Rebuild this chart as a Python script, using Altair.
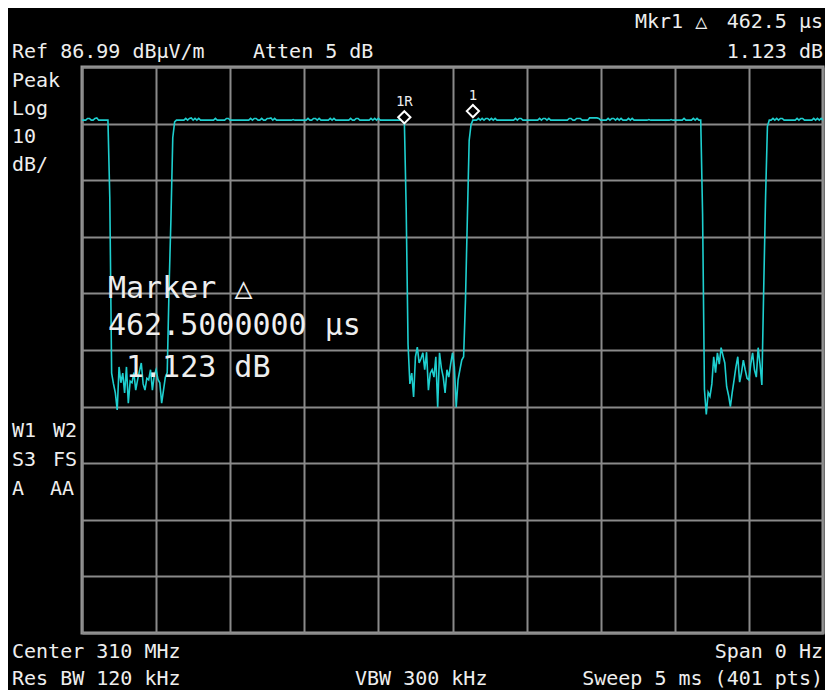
import altair as alt
import pandas as pd

# ---------------- data (read from the analyzer screen) ----------------
# 401 trace points, 5 ms sweep, level in dBuV/m
level_dbuv = [
    77.6, 77.6, 77.6, 77.9, 77.9, 77.6, 77.6, 77.9, 78.0, 77.6,
    77.6, 77.6, 77.6, 77.6, 77.6, 64.0, 32.9, 31.0, 29.4, 26.4,
    34.0, 31.2, 32.9, 29.4, 34.0, 27.6, 31.5, 31.2, 33.0, 29.9,
    31.7, 33.2, 34.7, 31.0, 29.9, 32.0, 31.7, 33.5, 29.9, 32.5,
    33.5, 31.8, 31.2, 27.6, 29.9, 32.2, 33.0, 48.0, 60.0, 74.5,
    77.3, 77.6, 77.6, 77.6, 77.6, 77.6, 77.9, 77.6, 77.9, 78.0,
    77.6, 77.9, 77.6, 77.9, 77.6, 77.6, 77.6, 77.6, 77.6, 77.6,
    77.6, 77.6, 77.9, 77.6, 77.6, 77.6, 77.6, 77.6, 77.9, 77.9,
    77.6, 77.6, 77.6, 77.6, 77.6, 77.6, 77.6, 77.6, 77.6, 77.6,
    77.6, 77.9, 77.6, 77.9, 77.9, 77.6, 77.6, 77.9, 77.6, 77.6,
    77.9, 77.9, 78.0, 77.6, 77.9, 77.6, 77.6, 77.6, 77.6, 77.6,
    77.6, 77.6, 77.6, 77.6, 77.7, 77.6, 77.6, 77.6, 77.6, 77.6,
    77.6, 77.6, 77.9, 77.6, 77.6, 77.9, 77.9, 77.6, 77.9, 77.6,
    77.6, 77.6, 77.6, 77.6, 77.9, 77.6, 77.9, 77.6, 77.6, 77.6,
    77.6, 77.6, 77.6, 77.6, 77.6, 77.9, 77.6, 77.6, 77.9, 77.9,
    77.6, 77.6, 77.6, 77.6, 77.6, 77.6, 77.9, 77.6, 77.9, 77.6,
    77.9, 77.6, 77.6, 77.6, 77.6, 77.6, 77.6, 77.6, 77.6, 77.6,
    77.6, 77.6, 77.6, 77.6, 77.6, 62.0, 38.0, 31.0, 32.9, 28.7,
    35.8, 37.5, 34.7, 35.5, 36.5, 33.5, 36.6, 29.9, 32.9, 33.5,
    32.2, 35.8, 26.9, 36.5, 33.8, 32.2, 29.4, 33.5, 32.2, 34.5,
    36.5, 34.0, 26.9, 31.7, 33.5, 35.2, 35.8, 45.8, 60.0, 74.0,
    76.8, 77.6, 77.6, 77.6, 77.9, 77.6, 77.9, 77.6, 77.9, 77.9,
    77.6, 77.9, 77.6, 77.9, 77.6, 77.6, 77.6, 77.6, 77.6, 77.6,
    77.6, 77.6, 77.6, 77.6, 77.9, 77.6, 77.9, 77.9, 77.6, 77.6,
    77.6, 77.6, 77.6, 77.6, 77.6, 77.6, 77.6, 77.9, 77.6, 77.9,
    77.9, 77.6, 77.9, 77.6, 77.6, 77.6, 77.6, 77.6, 77.6, 77.6,
    77.6, 77.6, 77.6, 77.9, 77.9, 77.6, 77.6, 77.9, 77.9, 77.9,
    77.6, 77.6, 77.6, 77.6, 78.0, 78.0, 78.0, 78.0, 78.0, 77.9,
    77.6, 77.6, 77.6, 77.6, 77.9, 77.6, 77.9, 77.9, 77.6, 77.9,
    77.6, 77.9, 77.6, 77.6, 77.6, 77.9, 77.6, 77.9, 77.6, 77.6,
    77.6, 77.6, 77.6, 77.6, 77.6, 77.6, 77.7, 77.6, 77.6, 77.6,
    77.6, 77.6, 77.6, 77.6, 77.6, 77.6, 77.6, 77.6, 77.7, 77.6,
    77.6, 77.6, 77.6, 77.6, 77.6, 77.9, 77.6, 77.6, 77.6, 77.6,
    77.9, 77.6, 77.9, 77.6, 77.6, 61.0, 30.0, 25.6, 29.5, 28.8,
    31.0, 35.8, 33.0, 36.5, 34.5, 37.4, 36.0, 34.7, 30.5, 29.0,
    27.0, 29.5, 31.7, 34.0, 35.8, 31.3, 33.0, 35.2, 33.5, 32.0,
    31.7, 34.5, 36.5, 33.5, 32.2, 37.4, 34.5, 30.8, 48.0, 64.0,
    76.5, 77.6, 77.6, 77.9, 77.6, 77.9, 77.6, 77.9, 77.9, 77.6,
    77.6, 77.6, 77.6, 77.6, 77.6, 77.6, 77.9, 77.6, 77.9, 77.9,
    77.6, 77.6, 77.6, 77.6, 77.6, 77.9, 77.6, 77.9, 77.6, 77.9,
    77.6,
]
point_index = list(range(len(level_dbuv)))   # 0 .. 400 (401 pts)

marker_index = [174, 211]
marker_level = [78.1, 79.2]
marker_name = ["1R", "1"]

x_grid = [0, 40, 80, 120, 160, 200, 240, 280, 320, 360, 400]
y_grid = [-13.01, -3.01, 6.99, 16.99, 26.99, 36.99, 46.99, 56.99, 66.99, 76.99, 86.99]

hdr_marker = ["Mkr1 \u25b3", "462.5 \u03bcs", "1.123 dB"]
hdr_left = ["Ref 86.99 dB\u03bcV/m", "Atten 5 dB"]
side_top = ["Peak", "Log", "10", "dB/"]
side_bot = [("W1", "W2"), ("S3", "FS"), ("A", "AA")]
footer = ["Center 310 MHz", "Span 0 Hz", "Res BW 120 kHz", "VBW 300 kHz",
          "Sweep 5 ms (401 pts)"]
readout = ["Marker \u25b3", "462.5000000 \u03bcs", "1.123 dB"]

# ---------------- style ----------------
FONT = "DejaVu Sans Mono"
TEXT = "#eeeeee"
CYAN = "#1ecfcf"
GRID = "#8a8a8a"
BORDER = "#9c9c9c"
W, H = 741, 566

trace = pd.DataFrame({"idx": point_index, "level": level_dbuv})
markers = pd.DataFrame({"idx": marker_index, "level": marker_level, "name": marker_name})

x_enc = alt.X("idx:Q",
              scale=alt.Scale(domain=[0, 400], nice=False, zero=False),
              axis=alt.Axis(values=x_grid, grid=True, gridColor=GRID, gridWidth=2,
                            gridOpacity=1, labels=False, ticks=False, domain=False,
                            title=None))
y_enc = alt.Y("level:Q",
              scale=alt.Scale(domain=[y_grid[0], y_grid[-1]], nice=False, zero=False),
              axis=alt.Axis(values=y_grid, grid=True, gridColor=GRID, gridWidth=2,
                            gridOpacity=1, labels=False, ticks=False, domain=False,
                            title=None))

line = alt.Chart(trace).mark_line(color=CYAN, strokeWidth=1.6, clip=True).encode(
    x=x_enc, y=y_enc)

pts = alt.Chart(markers).mark_point(shape="diamond", size=150, filled=True,
                                    fill="black", stroke="white", strokeWidth=2,
                                    opacity=1).encode(x="idx:Q", y="level:Q")
lbl = alt.Chart(markers).mark_text(font=FONT, fontSize=14, color=TEXT, dy=-11,
                                   align="center", baseline="alphabetic").encode(
    x="idx:Q", y="level:Q", text="name:N")


def label(txt, x, y, size=20, align="left"):
    return alt.Chart(pd.DataFrame({"t": [txt]})).mark_text(
        font=FONT, fontSize=size, color=TEXT, align=align, baseline="alphabetic"
    ).encode(x=alt.value(x), y=alt.value(y), text="t:N")


texts = [
    label(hdr_marker[0], 553, -39),
    label(hdr_marker[1], W, -39, align="right"),
    label(hdr_marker[2], W, -9, align="right"),
    label(hdr_left[0], -70, -9),
    label(hdr_left[1], 171, -9),
]
for i, t in enumerate(side_top):
    texts.append(label(t, -70, 20 + 28 * i))
for i, (a, b) in enumerate(side_bot):
    texts.append(label(a, -70, 370 + 29 * i))
    texts.append(label(b, -32 if b == "AA" else -29, 370 + 29 * i))
texts += [
    label(footer[0], -70, 591),
    label(footer[1], W, 591, align="right"),
    label(footer[2], -70, 618),
    label(footer[3], 273, 618),
    label(footer[4], W, 618, align="right"),
]
texts.append(label(readout[0], 26, 231, size=30))
texts.append(label(readout[1], 26, 268, size=30))
texts.append(label(readout[2], 44, 310, size=30))

chart = alt.layer(line, pts, lbl, *texts).properties(
    width=W, height=H,
    padding={"left": 74, "top": 59, "right": 2, "bottom": 57},
    autosize=alt.AutoSizeParams(type="none"),
).configure(background="#000000").configure_view(stroke=BORDER, strokeWidth=3)

chart.save("out.html", embed_options={"renderer": "svg", "actions": False})
